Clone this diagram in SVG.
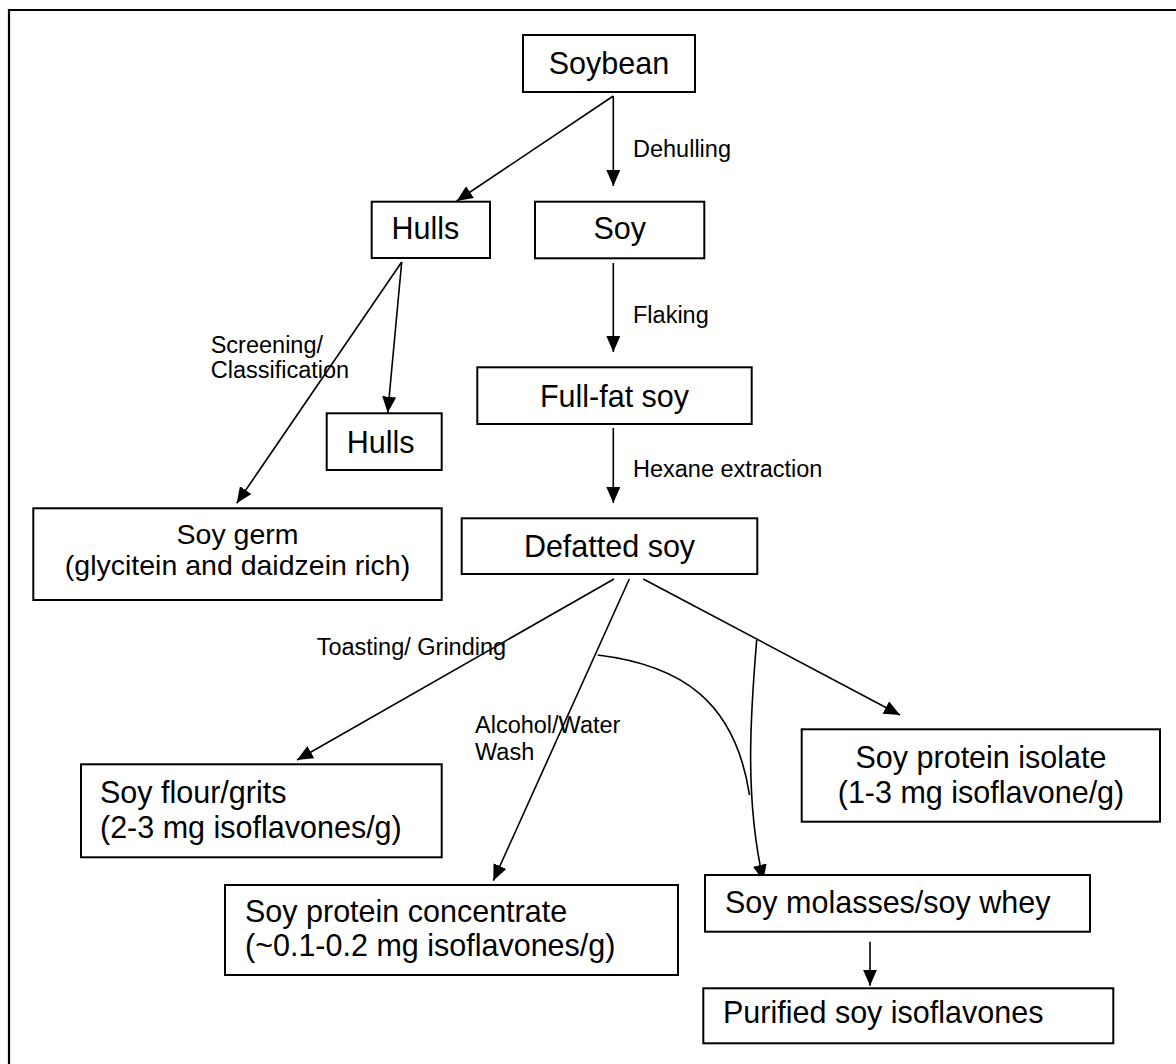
<svg xmlns="http://www.w3.org/2000/svg" width="1176" height="1064" viewBox="0 0 1176 1064">
<defs>
<style>
.box{fill:#fff;stroke:#000;stroke-width:2}
.t{font-family:"Liberation Sans",Arial,sans-serif;font-size:30.5px;fill:#000}
.c{text-anchor:middle}
.lbl{font-family:"Liberation Sans",Arial,sans-serif;font-size:23.5px;fill:#000}
.ln{fill:none;stroke:#000;stroke-width:1.6}
</style>
<marker id="ah" markerUnits="userSpaceOnUse" markerWidth="16" markerHeight="14" refX="16" refY="7" orient="auto">
<path d="M0,0 L16,7 L0,14 z" fill="#000"/>
</marker>
</defs>
<rect width="1176" height="1064" fill="#fff"/>
<path d="M9,1064 V10 H1176" fill="none" stroke="#000" stroke-width="2.2"/>

<g id="connectors">
<path class="ln" d="M613.3,96 L456.7,201" marker-end="url(#ah)"/>
<path class="ln" d="M613.3,96 V186" marker-end="url(#ah)"/>
<path class="ln" d="M613.3,263 V352" marker-end="url(#ah)"/>
<path class="ln" d="M613.3,428 V503" marker-end="url(#ah)"/>
<path class="ln" d="M401.7,262 L387.7,412.7" marker-end="url(#ah)"/>
<path class="ln" d="M401.7,262 L236.7,503.3" marker-end="url(#ah)"/>
<path class="ln" d="M614,579 L297,760" marker-end="url(#ah)"/>
<path class="ln" d="M629.3,579 L493.3,880.7" marker-end="url(#ah)"/>
<path class="ln" d="M643.3,579 L900,715" marker-end="url(#ah)"/>
<path class="ln" d="M597.7,655 C680,665 735,700 749.5,795"/>
<path class="ln" d="M756.7,640 C750,720 745,800 763.3,880.7" marker-end="url(#ah)"/>
<path class="ln" d="M870,941.7 V985.7" marker-end="url(#ah)"/>
<text class="lbl" x="633" y="156.7">Dehulling</text>
<text class="lbl" x="633" y="322.7">Flaking</text>
<text class="lbl" x="633" y="476.7">Hexane extraction</text>
<text class="lbl" x="210.7" y="353.3">Screening/</text>
<text class="lbl" x="210.7" y="378.3">Classification</text>
<text class="lbl" x="316.7" y="655">Toasting/ Grinding</text>
<text class="lbl" x="475" y="733.3">Alcohol/Water</text>
<text class="lbl" x="475" y="760">Wash</text>
</g>

<g id="soybean">
<rect class="box" x="523" y="35" width="172" height="57"/>
<text class="t c" x="609" y="74">Soybean</text>
</g>
<g id="hulls1">
<rect class="box" x="371.7" y="201.7" width="118.3" height="56.3"/>
<text class="t" x="391.5" y="239.3">Hulls</text>
</g>
<g id="soy">
<rect class="box" x="535" y="201.7" width="169.3" height="56.6"/>
<text class="t c" x="619.7" y="239.3">Soy</text>
</g>
<g id="hulls2">
<rect class="box" x="326.7" y="413.3" width="115" height="56.7"/>
<text class="t" x="346.7" y="452.7">Hulls</text>
</g>
<g id="fullfat">
<rect class="box" x="477.3" y="367.3" width="274.4" height="56.7"/>
<text class="t c" x="614.5" y="406.7">Full-fat soy</text>
</g>
<g id="soygerm">
<rect class="box" x="33.3" y="508.3" width="408.4" height="91.7"/>
<text class="t c" x="237.5" y="543.5" style="font-size:28.5px">Soy germ</text>
<text class="t c" x="237.5" y="575" style="font-size:28.5px">(glycitein and daidzein rich)</text>
</g>
<g id="defatted">
<rect class="box" x="461.7" y="518.3" width="295.6" height="55.7"/>
<text class="t c" x="609.5" y="557">Defatted soy</text>
</g>
<g id="flour">
<rect class="box" x="81" y="764.3" width="360.7" height="93"/>
<text class="t" x="100" y="803.3">Soy flour/grits</text>
<text class="t" x="100" y="837.5">(2-3 mg isoflavones/g)</text>
</g>
<g id="isolate">
<rect class="box" x="801.7" y="729.3" width="358.3" height="92.4"/>
<text class="t c" x="981" y="768.3">Soy protein isolate</text>
<text class="t c" x="981" y="803.3">(1-3 mg isoflavone/g)</text>
</g>
<g id="concentrate">
<rect class="box" x="225" y="885" width="453" height="90"/>
<text class="t" x="245" y="921.7">Soy protein concentrate</text>
<text class="t" x="245" y="956">(~0.1-0.2 mg isoflavones/g)</text>
</g>
<g id="molasses">
<rect class="box" x="705" y="875" width="385" height="56.7"/>
<text class="t" x="725" y="913.3">Soy molasses/soy whey</text>
</g>
<g id="purified">
<rect class="box" x="703.3" y="988.3" width="410" height="55"/>
<text class="t" x="723" y="1023.3">Purified soy isoflavones</text>
</g>
</svg>
